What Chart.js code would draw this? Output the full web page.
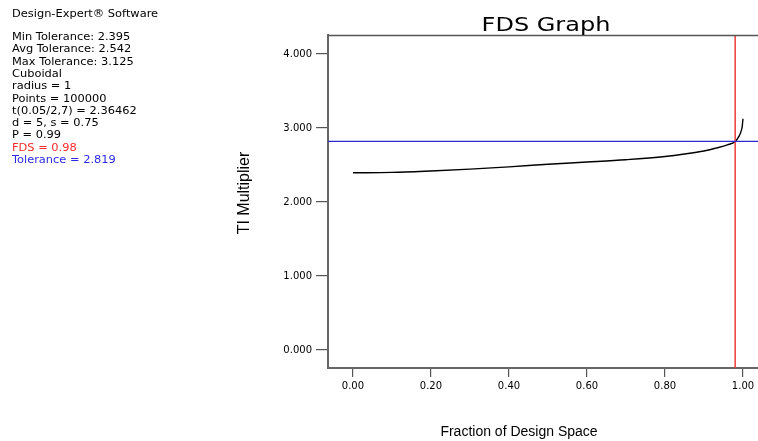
<!DOCTYPE html>
<html>
<head>
<meta charset="utf-8">
<script src="https://cdn.jsdelivr.net/npm/chart.js@4"></script>
<style>
  body { margin:0; background:#fff; }
  #wrap { position:relative; width:758px; height:441px; }
</style>
</head>
<body>
<div id="wrap"><canvas id="fdsChart"></canvas></div>
<script>
// FDS curve
const fraction = [0, 0.1, 0.2, 0.3, 0.4, 0.5, 0.6, 0.7, 0.8, 0.85, 0.9, 0.93, 0.96, 0.98, 0.99, 0.995, 0.998, 1.0];
const tiMultiplier = [2.395, 2.40, 2.42, 2.445, 2.475, 2.51, 2.54, 2.572, 2.615, 2.648, 2.69, 2.728, 2.772, 2.819, 2.89, 2.955, 3.02, 3.125];

const fdsValue = 0.98;
const toleranceValue = 2.819;

const xTicks = [0, 0.2, 0.4, 0.6, 0.8, 1.0];
const yTicks = [0, 1, 2, 3, 4];
const xRange = [-0.064, 1.0385];
const yRange = [-0.243, 4.257];

const infoLines = [
  'Min Tolerance: 2.395',
  'Avg Tolerance: 2.542',
  'Max Tolerance: 3.125',
  'Cuboidal',
  'radius = 1',
  'Points = 100000',
  't(0.05/2,7) = 2.36462',
  'd = 5, s = 0.75',
  'P = 0.99',
  'FDS = 0.98',
  'Tolerance = 2.819'
];
const infoColors = { 'FDS = 0.98': '#ff2a2a', 'Tolerance = 2.819': '#2a2ae6' };

// texte en canvas (titres + bloc de gauche)
const textPlugin = {
  id: 'fdsText',
  afterDraw(chart) {
    const ctx = chart.ctx;
    const a = chart.chartArea;
    ctx.save();
    // bord du haut
    ctx.strokeStyle = '#555';
    ctx.lineWidth = 1.3;
    ctx.beginPath();
    ctx.moveTo(a.left, a.top + 0.5);
    ctx.lineTo(a.right, a.top + 0.5);
    ctx.stroke();

    const stretch = (txt, x, y, sx) => {
      ctx.save();
      ctx.translate(x, y);
      ctx.scale(sx, 1);
      ctx.fillText(txt, 0, 0);
      ctx.restore();
    };

    ctx.textBaseline = 'middle';
    ctx.textAlign = 'left';
    ctx.font = '10px "DejaVu Sans"';
    ctx.fillStyle = '#000';
    stretch('Design-Expert® Software', 12, 14, 1.14);
    infoLines.forEach((t, i) => {
      ctx.fillStyle = infoColors[t] || '#000';
      stretch(t, 12, 37.5 + i * 12.3, 1.14);
    });

    // titre
    ctx.fillStyle = '#000';
    ctx.textAlign = 'center';
    ctx.textBaseline = 'alphabetic';
    ctx.font = '20px "DejaVu Sans"';
    stretch('FDS Graph', (a.left + a.right) / 2 + 3, 31, 1.2);

    ctx.font = '14px "Liberation Sans"';
    ctx.fillText('Fraction of Design Space', 519, 436);

    ctx.save();
    ctx.translate(245, 193);
    ctx.rotate(-Math.PI / 2);
    ctx.textBaseline = 'middle';
    ctx.font = '16px "Liberation Sans"';
    ctx.fillText('TI Multiplier', 0, 0);
    ctx.restore();

    ctx.restore();
  }
};

new Chart(document.getElementById('fdsChart'), {
  type: 'scatter',
  data: {
    datasets: [
      {
        label: 'Tolerance',
        data: [{ x: xRange[0], y: toleranceValue }, { x: xRange[1], y: toleranceValue }],
        showLine: true, borderColor: '#2b2bd6', borderWidth: 1.3, pointRadius: 0
      },
      {
        label: 'FDS',
        data: [{ x: fdsValue, y: yRange[0] }, { x: fdsValue, y: yRange[1] }],
        showLine: true, borderColor: '#f03c3c', borderWidth: 1.5, pointRadius: 0
      },
      {
        label: 'TI Multiplier',
        data: fraction.map((f, i) => ({ x: f, y: tiMultiplier[i] })),
        showLine: true, borderColor: '#000', borderWidth: 1.4, pointRadius: 0,
        cubicInterpolationMode: 'monotone'
      }
    ]
  },
  options: {
    responsive: true, maintainAspectRatio: false, animation: false,
    layout: { padding: { top: 35, left: 0, right: 0, bottom: 0 } },
    plugins: { legend: { display: false }, tooltip: { enabled: false }, title: { display: false } },
    scales: {
      x: {
        type: 'linear', min: xRange[0], max: xRange[1],
        afterBuildTicks: s => { s.ticks = xTicks.map(v => ({ value: v })); },
        afterFit: s => { s.height = 73; },
        grid: { drawOnChartArea: false, drawTicks: true, tickLength: 9, color: '#555', lineWidth: 1.2 },
        border: { display: true, color: '#666', width: 2 },
        ticks: {
          padding: 3, color: '#000', maxRotation: 0, autoSkip: false,
          font: { family: 'DejaVu Sans', size: 10 },
          callback: v => Number(v).toFixed(2)
        }
      },
      y: {
        type: 'linear', min: yRange[0], max: yRange[1],
        afterBuildTicks: s => { s.ticks = yTicks.map(v => ({ value: v })); },
        afterFit: s => { s.width = 328; },
        grid: { drawOnChartArea: false, drawTicks: true, tickLength: 12, color: '#555', lineWidth: 1.2 },
        border: { display: true, color: '#666', width: 2 },
        ticks: {
          padding: 4, color: '#000', autoSkip: false,
          font: { family: 'DejaVu Sans', size: 10 },
          callback: v => Number(v).toFixed(3)
        }
      }
    }
  },
  plugins: [textPlugin]
});
</script>
</body>
</html>
